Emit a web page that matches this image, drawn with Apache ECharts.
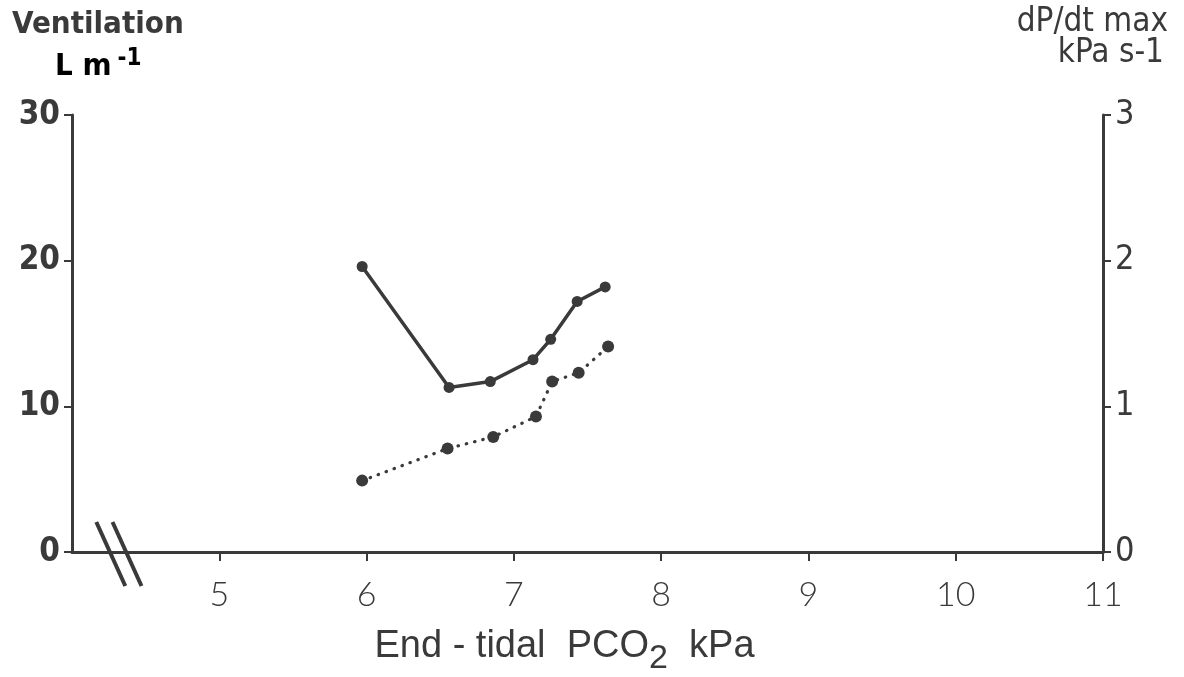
<!DOCTYPE html>
<html>
<head>
<meta charset="utf-8">
<script src="https://cdn.jsdelivr.net/npm/echarts@6/dist/echarts.min.js"></script>
<style>html,body{margin:0;padding:0;background:#fff}#c{width:1184px;height:677px}</style>
</head>
<body>
<div id="c"></div>
<script>
// ---- data ----
const xTicks = [4, 5, 6, 7, 8, 9, 10, 11];
const leftTicks = [0, 10, 20, 30];
const rightTicks = [0, 1, 2, 3];
// solid line (dP/dt max, kPa s-1, right axis)
const solidX = [5.97, 6.56, 6.84, 7.13, 7.25, 7.43, 7.62];
const solidY = [1.96, 1.13, 1.17, 1.32, 1.46, 1.72, 1.82];
// dotted line (ventilation, L m-1, left axis)
const dotX = [5.97, 6.55, 6.86, 7.15, 7.26, 7.44, 7.64];
const dotY = [4.9, 7.1, 7.9, 9.3, 11.7, 12.3, 14.1];

const ink = '#3a3a3a';
const narrow = '"Liberation Sans Narrow","DejaVu Sans Condensed","Liberation Sans",sans-serif';
const thin = 'Lato,"Liberation Sans",sans-serif';

const chart = echarts.init(document.getElementById('c'));
const solidData = solidX.map((x, i) => [x, solidY[i]]);
const dotData = dotX.map((x, i) => [x, dotY[i]]);
const shownX = xTicks.slice(1);

const titles = [
  { type: 'text', left: 12, top: 9, style: { text: 'Ventilation', font: 'bold 31px ' + narrow, fill: ink } },
  { type: 'text', left: 55, top: 47, style: { text: '{a|L m}{s|-1}', rich: { a: { font: 'bold 31px ' + narrow, color: ink }, s: { font: 'bold 24px ' + narrow, color: ink, padding: [0, 0, 16, 6] } } } },
  { type: 'text', right: 16, top: 6, style: { text: 'dP/dt max', font: '33px ' + narrow, fill: ink } },
  { type: 'text', right: 20, top: 37, style: { text: 'kPa s-1', font: '33px ' + narrow, fill: ink } }
];

chart.setOption({
  animation: false,
  backgroundColor: '#fff',
  grid: { left: 72, right: 81, top: 115, bottom: 125, containLabel: false, outerBoundsMode: 'none' },
  xAxis: {
    type: 'value', min: xTicks[0], max: xTicks[xTicks.length - 1], interval: 1,
    name: '{t|End - tidal  PCO}{sub|2}{e|  kPa}',
    nameLocation: 'middle', nameGap: 66,
    nameTextStyle: {
      rich: {
        t: { fontFamily: 'Liberation Sans, sans-serif', fontSize: 38, color: ink },
        e: { fontFamily: 'Liberation Sans, sans-serif', fontSize: 38, color: ink, padding: [0, 46, 0, 0] },
        sub: { fontFamily: 'Liberation Sans, sans-serif', fontSize: 34, color: ink, padding: [24, 0, 0, 0] }
      }
    },
    axisLine: { show: true, onZero: false, lineStyle: { color: ink, width: 3 } },
    axisTick: { show: true, inside: false, length: 9, customValues: shownX, lineStyle: { color: ink, width: 2 } },
    axisLabel: {
      margin: 26, fontSize: 34, fontFamily: thin, fontWeight: 300, color: ink,
      customValues: shownX
    },
    splitLine: { show: false }
  },
  yAxis: [
    {
      type: 'value', min: leftTicks[0], max: leftTicks[leftTicks.length - 1], interval: 10,
      position: 'left',
      axisLine: { show: true, lineStyle: { color: ink, width: 3 } },
      axisTick: { show: true, length: 8, lineStyle: { color: ink, width: 2 } },
      axisLabel: { margin: 12, fontSize: 33, fontWeight: 'bold', fontFamily: narrow, color: ink },
      splitLine: { show: false }
    },
    {
      type: 'value', min: rightTicks[0], max: rightTicks[rightTicks.length - 1], interval: 1,
      position: 'right',
      axisLine: { show: true, lineStyle: { color: ink, width: 3 } },
      axisTick: { show: true, length: 8, lineStyle: { color: ink, width: 2 } },
      axisLabel: { margin: 12, fontSize: 34, fontFamily: narrow, color: ink },
      splitLine: { show: false }
    }
  ],
  series: [
    {
      type: 'line', yAxisIndex: 1, data: solidData,
      symbol: 'circle', symbolSize: 11,
      itemStyle: { color: ink },
      lineStyle: { color: ink, width: 3.5 }
    },
    {
      type: 'line', yAxisIndex: 0, data: dotData,
      symbol: 'circle', symbolSize: 12,
      itemStyle: { color: ink },
      lineStyle: { color: ink, width: 3.2, type: [0.5, 8], cap: 'round' }
    }
  ],
  graphic: titles
});

// axis break marks on the x axis
const p1 = chart.convertToPixel({ gridIndex: 0 }, [4.26, 0]);
const p2 = chart.convertToPixel({ gridIndex: 0 }, [4.37, 0]);
const brk = (p) => ({
  type: 'line',
  shape: { x1: p[0] - 14, y1: p[1] - 30, x2: p[0] + 15, y2: p[1] + 34 },
  style: { stroke: ink, lineWidth: 4 }
});
chart.setOption({ graphic: titles.concat([brk(p1), brk(p2)]) }, { replaceMerge: ['graphic'] });
</script>
</body>
</html>
